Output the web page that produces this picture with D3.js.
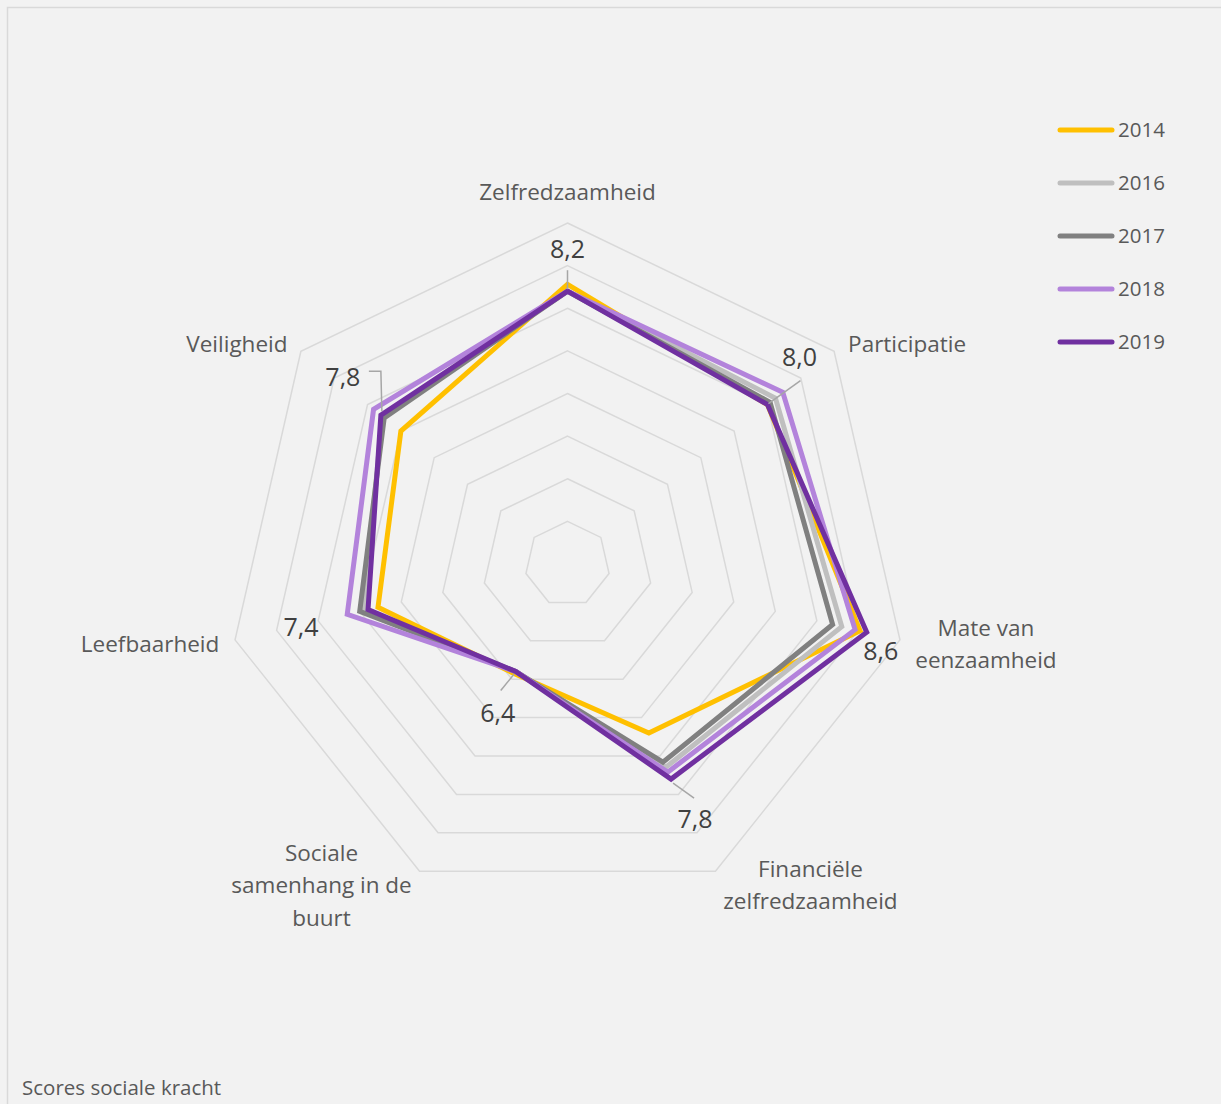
<!DOCTYPE html>
<html>
<head>
<meta charset="utf-8">
<script src="https://cdn.jsdelivr.net/npm/d3@7"></script>
<style>
  html, body { margin: 0; padding: 0; background: #f2f2f2; }
  svg { display: block; font-family: "Open Sans", "Noto Sans", sans-serif; }
</style>
</head>
<body>
<div id="chart"></div>
<script>
// categories (clockwise from top)
var categories = [
  ["Zelfredzaamheid"],
  ["Participatie"],
  ["Mate van", "eenzaamheid"],
  ["Financiële", "zelfredzaamheid"],
  ["Sociale", "samenhang in de", "buurt"],
  ["Leefbaarheid"],
  ["Veiligheid"]
];

var years = ["2014", "2016", "2017", "2018", "2019"];

// scores per year, same order as categories
var s2014 = [8.28, 8.0, 8.52, 7.2, 6.43, 7.28, 7.5];
var s2016 = [8.2, 8.12, 8.3, 7.65, 6.4, 7.45, 7.78];
var s2017 = [8.2, 8.04, 8.19, 7.58, 6.4, 7.5, 7.75];
var s2018 = [8.2, 8.23, 8.46, 7.71, 6.4, 7.65, 7.91];
var s2019 = [8.2, 8.0, 8.6, 7.8, 6.4, 7.4, 7.8];

var axisTicks = [5, 5.5, 6, 6.5, 7, 7.5, 8, 8.5, 9];

var colors = ["#FFC000", "#BFBFBF", "#808080", "#B383DB", "#7030A0"];

var series = [s2014, s2016, s2017, s2018, s2019];

// Dimensions
var width = 1221, height = 1104;
var cx = 567.5, cy = 564, R = 341;

var svg = d3.select("#chart")
  .append("svg")
  .attr("width", width)
  .attr("height", height);

// background + frame
svg.append("rect")
  .attr("x", 7.5).attr("y", 7.5)
  .attr("width", width).attr("height", height)
  .attr("fill", "#f2f2f2")
  .attr("stroke", "#d9d9d9")
  .attr("stroke-width", 1.5);

var g = svg.append("g")
  .attr("transform", "translate(" + cx + "," + cy + ")");

var r = d3.scaleLinear()
  .domain([5, 9])
  .range([0, R]);

var n = categories.length;
var angle = d3.scalePoint()
  .domain(d3.range(n + 1))
  .range([0, 2 * Math.PI]);

function xy(i, v) {
  var a = angle(i);
  return [r(v) * Math.sin(a), -r(v) * Math.cos(a)];
}

// grid rings
var ring = d3.lineRadial()
  .angle((d, i) => angle(i))
  .radius(d => r(d))
  .curve(d3.curveLinearClosed);

g.selectAll(".grid")
  .data(axisTicks.slice(1))
  .enter()
  .append("path")
  .attr("class", "grid")
  .attr("d", t => ring(d3.range(n).map(() => t)))
  .attr("fill", "none")
  .attr("stroke", "#d9d9d9")
  .attr("stroke-width", 1.5);

// series lines
var line = d3.lineRadial()
  .angle((d, i) => angle(i))
  .radius(d => r(d))
  .curve(d3.curveLinearClosed);

g.selectAll(".serie")
  .data(series)
  .enter()
  .append("path")
  .attr("class", "serie")
  .attr("d", d => line(d))
  .attr("fill", "none")
  .attr("stroke", (d, i) => colors[i])
  .attr("stroke-width", 5)
  .attr("stroke-linejoin", "miter");

// category labels: offset from outer vertex
var catOffset = [
  [0, -31], [73, -7], [86, 4], [95, 14], [-98, 14], [-85, 4], [-64, -7]
];

g.selectAll(".cat")
  .data(categories)
  .enter()
  .append("text")
  .attr("class", "cat")
  .attr("fill", "#595959")
  .attr("font-size", 22.5)
  .attr("text-anchor", "middle")
  .each(function (lines, i) {
    var p = xy(i, 9);
    var x = p[0] + catOffset[i][0];
    var y = p[1] + catOffset[i][1] - (lines.length - 1) * 32.5 / 2;
    d3.select(this).selectAll("tspan")
      .data(lines)
      .enter()
      .append("tspan")
      .attr("x", x)
      .attr("y", (l, k) => y + k * 32.5)
      .attr("dy", "0.35em")
      .text(l => l);
  });

// data labels for 2019 with leader lines
var labelOffset = [[0, -42], [32, -47], [14, 19], [24, 40], [-18, 42], [-67, 18], [-38, -38]];
var leaders = [
  [[0, -21], [0, -2]],
  [[33, -24], [1, -1]],
  null,
  [[23, 19], [2, 4]],
  [[-15, 19], [-2, 3]],
  null,
  [[-12, -44], [0, -44], [1, -4]]
];

g.selectAll(".leader")
  .data(s2019.map((v, i) => ({ v: v, i: i })).filter(d => leaders[d.i]))
  .enter()
  .append("polyline")
  .attr("class", "leader")
  .attr("points", d => {
    var p = xy(d.i, d.v);
    return leaders[d.i].map(o => (p[0] + o[0]) + "," + (p[1] + o[1])).join(" ");
  })
  .attr("fill", "none")
  .attr("stroke", "#a6a6a6")
  .attr("stroke-width", 1.5);

g.selectAll(".val")
  .data(s2019)
  .enter()
  .append("text")
  .attr("class", "val")
  .attr("x", (v, i) => xy(i, v)[0] + labelOffset[i][0])
  .attr("y", (v, i) => xy(i, v)[1] + labelOffset[i][1])
  .attr("dy", "0.35em")
  .attr("text-anchor", "middle")
  .attr("fill", "#404040")
  .attr("font-size", 25)
  .text(v => d3.format(".1f")(v).replace(".", ","));

// legend
var legend = svg.append("g")
  .attr("transform", "translate(1058,130)");

var item = legend.selectAll(".item")
  .data(years)
  .enter()
  .append("g")
  .attr("transform", (d, i) => "translate(0," + i * 53 + ")");

item.append("line")
  .attr("x1", 2).attr("x2", 54)
  .attr("stroke", (d, i) => colors[i])
  .attr("stroke-width", 5)
  .attr("stroke-linecap", "round");

item.append("text")
  .attr("x", 60)
  .attr("dy", "0.35em")
  .attr("fill", "#595959")
  .attr("font-size", 20.5)
  .text(d => d);

// footer
svg.append("text")
  .attr("x", 22)
  .attr("y", 1095)
  .attr("fill", "#595959")
  .attr("font-size", 20.5)
  .text("Scores sociale kracht");
</script>
</body>
</html>
